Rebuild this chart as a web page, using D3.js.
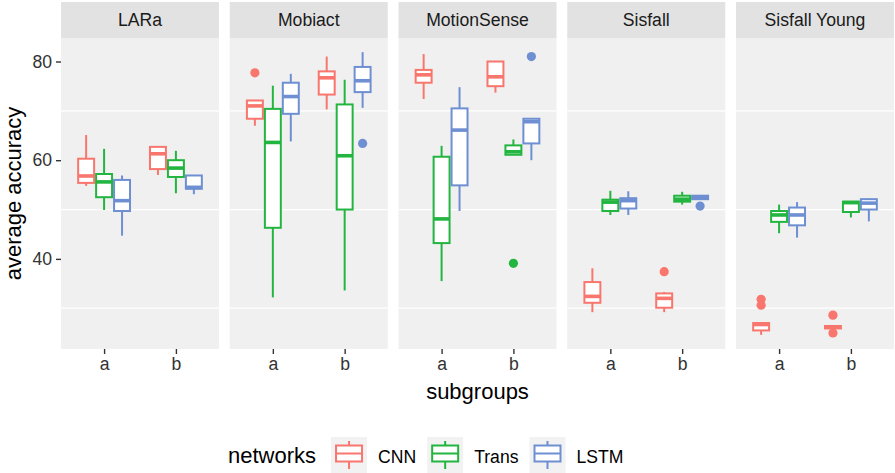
<!DOCTYPE html>
<html>
<head>
<meta charset="utf-8">
<script src="https://cdn.jsdelivr.net/npm/d3@7"></script>
<style>
  body { margin: 0; background: #fff; }
  text { font-family: "Liberation Sans", Arial, Helvetica, sans-serif; }
</style>
</head>
<body>
<div id="chart"></div>
<script>
var w = 895;
var h = 473;

var datasets = ["LARa", "Mobiact", "MotionSense", "Sisfall", "Sisfall Young"];
var subgroups = ["a", "b"];
var networks = ["CNN", "Trans", "LSTM"];
var netColors = ["#F8766D", "#22B53F", "#6E8FD2"];
var yTicks = [40, 60, 80];
var yMinor = [30, 50, 70];

// box stats per dataset: [lower whisker, q1, median, q3, upper whisker]
// order: a-CNN, a-Trans, a-LSTM, b-CNN, b-Trans, b-LSTM
var laraStats = [
  [54.8, 55.4, 56.8, 60.3, 65.1],
  [49.9, 52.5, 55.6, 57.2, 62.3],
  [44.7, 49.7, 51.8, 56.0, 56.9],
  [57.0, 58.2, 61.3, 62.7, 62.7],
  [53.3, 56.6, 58.4, 60.0, 61.9],
  [53.1, 54.2, 54.5, 56.9, 56.9]
];
var mobiactStats = [
  [67.0, 68.4, 71.0, 72.1, 72.1],
  [32.2, 46.3, 63.6, 70.4, 75.1],
  [63.8, 69.4, 72.9, 75.7, 77.5],
  [70.3, 73.3, 76.7, 78.0, 81.0],
  [33.6, 50.0, 60.9, 71.3, 76.3],
  [70.6, 73.8, 76.1, 78.9, 81.9]
];
var motionStats = [
  [72.4, 75.7, 77.3, 78.3, 81.5],
  [35.5, 43.2, 48.1, 60.7, 62.9],
  [49.7, 54.9, 66.1, 70.5, 74.8],
  [73.7, 75.0, 76.9, 80.0, 80.0],
  [61.1, 61.1, 61.7, 63.0, 64.2],
  [60.0, 63.4, 67.8, 68.4, 68.4]
];
var sisfallStats = [
  [29.2, 31.1, 32.4, 35.3, 38.1],
  [48.9, 49.7, 51.5, 52.0, 53.8],
  [48.9, 50.2, 51.8, 52.3, 53.7],
  [29.2, 30.1, 32.0, 33.0, 33.3],
  [51.0, 51.6, 52.1, 52.8, 53.6],
  [52.1, 52.1, 52.4, 52.8, 52.8]
];
var youngStats = [
  [24.6, 25.5, 26.7, 27.0, 27.0],
  [45.2, 47.5, 48.9, 49.7, 51.0],
  [44.3, 46.8, 48.9, 50.4, 51.5],
  [25.9, 25.9, 26.2, 26.4, 26.4],
  [48.4, 49.5, 51.4, 51.6, 51.6],
  [47.6, 50.0, 51.3, 52.1, 52.2]
];
var allStats = [laraStats, mobiactStats, motionStats, sisfallStats, youngStats];

// outliers: [dataset, subgroup, network, value]
var outliers = [
  ["Mobiact", "a", "CNN", 77.7],
  ["Mobiact", "b", "LSTM", 63.4],
  ["MotionSense", "b", "Trans", 39.1],
  ["MotionSense", "b", "LSTM", 81.0],
  ["Sisfall", "b", "CNN", 37.4],
  ["Sisfall", "b", "LSTM", 50.7],
  ["Sisfall Young", "a", "CNN", 31.8],
  ["Sisfall Young", "a", "CNN", 30.6],
  ["Sisfall Young", "b", "CNN", 28.6],
  ["Sisfall Young", "b", "CNN", 25.0]
];

// flatten into rows the boxes can be drawn from
var boxes = [];
datasets.forEach(function(ds, i) {
  allStats[i].forEach(function(s, j) {
    boxes.push({ds: ds, sub: subgroups[Math.floor(j / 3)], net: networks[j % 3],
      lo: s[0], q1: s[1], med: s[2], q3: s[3], hi: s[4]});
  });
});

var margin = {left: 61, right: 1, top: 38, bottom: 124},
    stripH = 36,
    gap = 10.75,
    plotW = w - margin.left - margin.right,
    panelW = (plotW - gap * (datasets.length - 1)) / datasets.length,
    panelTop = margin.top,
    panelBottom = h - margin.bottom;

var svg = d3.select("#chart").append("svg")
    .attr("width", w)
    .attr("height", h);

// y scale with ggplot style 5% expansion
var vals = boxes.map(function(d) { return d.lo; }).concat(boxes.map(function(d) { return d.hi; }))
    .concat(outliers.map(function(d) { return d[3]; }));
var ymin = d3.min(vals), ymax = d3.max(vals), pad = (ymax - ymin) * 0.05;
var y = d3.scaleLinear().domain([ymin - pad, ymax + pad]).range([panelBottom, panelTop]);

var panelX = d3.scaleBand().domain(datasets).range([margin.left, w - margin.right]).paddingInner(gap / (panelW + gap));
var x = d3.scalePoint().domain(subgroups).range([0, panelX.bandwidth()]).padding(0.6);
var step = x.step();
var xNet = d3.scaleBand().domain(networks).range([-0.375 * step, 0.375 * step]);
var color = d3.scaleOrdinal().domain(networks).range(netColors);

var panels = svg.selectAll(".panel")
  .data(datasets)
  .enter().append("g")
    .attr("class", "panel")
    .attr("transform", function(d) { return "translate(" + panelX(d) + ",0)"; });

// strips
panels.append("rect")
    .attr("x", 0).attr("y", panelTop - stripH)
    .attr("width", panelX.bandwidth()).attr("height", stripH)
    .attr("fill", "#E2E2E2");
panels.append("text")
    .attr("x", panelX.bandwidth() / 2)
    .attr("y", panelTop - stripH / 2)
    .attr("dy", "0.36em")
    .attr("text-anchor", "middle")
    .attr("fill", "#1A1A1A")
    .style("font-size", "17.6px")
    .text(function(d) { return d; });

// panel background + minor grid
panels.append("rect")
    .attr("x", 0).attr("y", panelTop)
    .attr("width", panelX.bandwidth()).attr("height", panelBottom - panelTop)
    .attr("fill", "#F0F0F0");
panels.selectAll(".grid")
  .data(yMinor)
  .enter().append("line")
    .attr("x1", 0).attr("x2", panelX.bandwidth())
    .attr("y1", function(d) { return y(d); })
    .attr("y2", function(d) { return y(d); })
    .attr("stroke", "#fff")
    .attr("stroke-width", 1.2);

// x axes
panels.append("g")
    .attr("transform", "translate(0," + panelBottom + ")")
    .call(d3.axisBottom(x).tickSizeOuter(0).tickSizeInner(5).tickPadding(4))
    .call(function(g) {
      g.select(".domain").remove();
      g.selectAll(".tick line").attr("stroke", "#333").attr("stroke-width", 1.4);
      g.selectAll(".tick text").attr("fill", "#333")
        .style("font-size", "17.6px")
        .style("font-family", "'Liberation Sans', Arial, sans-serif");
    });

// boxes
var bx = function(d) { return x(d.sub) + xNet(d.net); };
var bw = xNet.bandwidth();
var boxG = panels.selectAll(".box")
  .data(function(ds) { return boxes.filter(function(b) { return b.ds === ds; }); })
  .enter().append("g")
    .attr("class", "box");

boxG.append("line")
    .attr("x1", function(d) { return bx(d) + bw / 2; })
    .attr("x2", function(d) { return bx(d) + bw / 2; })
    .attr("y1", function(d) { return y(d.hi); })
    .attr("y2", function(d) { return y(d.q3); })
    .attr("stroke", function(d) { return color(d.net); })
    .attr("stroke-width", 2);
boxG.append("line")
    .attr("x1", function(d) { return bx(d) + bw / 2; })
    .attr("x2", function(d) { return bx(d) + bw / 2; })
    .attr("y1", function(d) { return y(d.q1); })
    .attr("y2", function(d) { return y(d.lo); })
    .attr("stroke", function(d) { return color(d.net); })
    .attr("stroke-width", 2);
boxG.append("rect")
    .attr("x", function(d) { return bx(d) + 1; })
    .attr("y", function(d) { return y(d.q3); })
    .attr("width", bw - 2)
    .attr("height", function(d) { return y(d.q1) - y(d.q3); })
    .attr("fill", "#fff")
    .attr("stroke", function(d) { return color(d.net); })
    .attr("stroke-width", 2);
boxG.append("line")
    .attr("x1", function(d) { return bx(d) + 1; })
    .attr("x2", function(d) { return bx(d) + bw - 1; })
    .attr("y1", function(d) { return y(d.med); })
    .attr("y2", function(d) { return y(d.med); })
    .attr("stroke", function(d) { return color(d.net); })
    .attr("stroke-width", 3.6);

// outliers
panels.selectAll(".outlier")
  .data(function(ds) { return outliers.filter(function(o) { return o[0] === ds; }); })
  .enter().append("circle")
    .attr("class", "outlier")
    .attr("cx", function(d) { return x(d[1]) + xNet(d[2]) + bw / 2; })
    .attr("cy", function(d) { return y(d[3]); })
    .attr("r", 4.6)
    .attr("fill", function(d) { return color(d[2]); });

// y axis on first panel
svg.append("g")
    .attr("transform", "translate(" + margin.left + ",0)")
    .call(d3.axisLeft(y).tickValues(yTicks).tickSizeOuter(0).tickSizeInner(5).tickPadding(4))
    .call(function(g) {
      g.select(".domain").remove();
      g.selectAll(".tick line").attr("stroke", "#333").attr("stroke-width", 1.4);
      g.selectAll(".tick text").attr("fill", "#333")
        .style("font-size", "17.6px")
        .style("font-family", "'Liberation Sans', Arial, sans-serif");
    });

// axis titles
svg.append("text")
    .attr("transform", "translate(21," + (panelTop + panelBottom) / 2 + ") rotate(-90)")
    .attr("text-anchor", "middle")
    .attr("fill", "#000")
    .style("font-size", "22px")
    .text("average accuracy");
svg.append("text")
    .attr("x", margin.left + plotW / 2)
    .attr("y", 399)
    .attr("text-anchor", "middle")
    .attr("fill", "#000")
    .style("font-size", "22px")
    .text("subgroups");

// legend
var legend = svg.append("g").attr("transform", "translate(228,0)");
var title = legend.append("text")
    .attr("x", 0).attr("y", 463)
    .attr("fill", "#000")
    .style("font-size", "22px")
    .text("networks");
var lx = title.node().getComputedTextLength() + 15;
networks.forEach(function(n) {
  var k = legend.append("g").attr("transform", "translate(" + lx + ",437)");
  k.append("rect").attr("width", 36).attr("height", 36).attr("fill", "#F2F2F2");
  k.append("line").attr("x1", 18).attr("x2", 18).attr("y1", 4).attr("y2", 32)
    .attr("stroke", color(n)).attr("stroke-width", 2);
  k.append("rect").attr("x", 5).attr("y", 8.5).attr("width", 26).attr("height", 16)
    .attr("fill", "#fff").attr("stroke", color(n)).attr("stroke-width", 2);
  k.append("line").attr("x1", 5).attr("x2", 31).attr("y1", 16.5).attr("y2", 16.5)
    .attr("stroke", color(n)).attr("stroke-width", 2);
  var t = legend.append("text")
      .attr("x", lx + 47).attr("y", 463)
      .attr("fill", "#000")
      .style("font-size", "17.6px")
      .text(n);
  lx += 47 + t.node().getComputedTextLength() + 11;
});
</script>
</body>
</html>
